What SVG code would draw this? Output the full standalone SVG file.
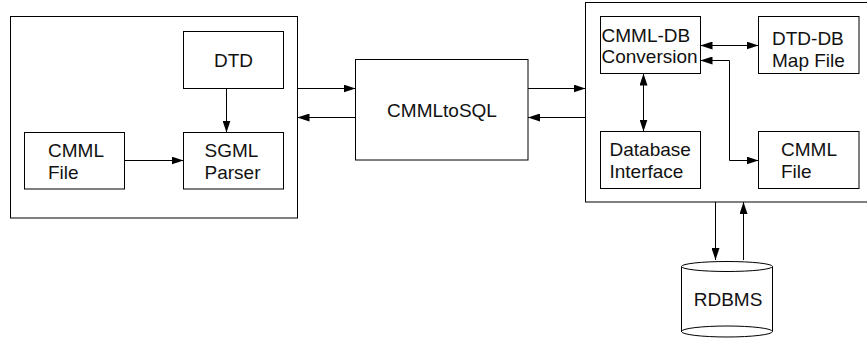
<svg xmlns="http://www.w3.org/2000/svg" width="867" height="341" viewBox="0 0 867 341">
<style>
.box{fill:#fff;stroke:#000;stroke-width:1}
.lbl{font-family:"Liberation Sans",Arial,sans-serif;font-size:19px;fill:#111}
.c{text-anchor:middle}
.con{fill:none;stroke:#000;stroke-width:1}
</style>
<defs>
<marker id="ah" viewBox="0 0 12 8" refX="12" refY="4" markerWidth="12" markerHeight="8" markerUnits="userSpaceOnUse" orient="auto-start-reverse">
<path d="M0,0 L12,4 L0,8 z" fill="#000"/>
</marker>
</defs>
<rect width="867" height="341" fill="#fff"/>
<g id="leftGroup"><rect class="box" x="10.5" y="16.5" width="287" height="201.5"/></g>
<g id="rightGroup"><rect class="box" x="585.5" y="2.5" width="290" height="199.5"/></g>
<g id="DTD"><rect class="box" x="183.5" y="31.5" width="100" height="57"/><text class="lbl c" x="233.5" y="67">DTD</text></g>
<g id="SGMLParser"><rect class="box" x="183.5" y="132.5" width="100" height="56.5"/><text class="lbl" x="204.5" y="157">SGML</text><text class="lbl" x="204.5" y="179">Parser</text></g>
<g id="CMMLFileLeft"><rect class="box" x="24.5" y="132.5" width="100" height="56.5"/><text class="lbl" x="48" y="157">CMML</text><text class="lbl" x="48" y="179">File</text></g>
<g id="CMMLtoSQL"><rect class="box" x="355.5" y="59.5" width="172.5" height="100.5"/><text class="lbl c" x="442" y="117">CMMLtoSQL</text></g>
<g id="CMMLDBConversion"><rect class="box" x="600.5" y="16.5" width="100" height="57"/><text class="lbl" x="601.5" y="41.5">CMML-DB</text><text class="lbl" x="601.5" y="62.7">Conversion</text></g>
<g id="DTDDBMapFile"><rect class="box" x="758.5" y="16.5" width="100.5" height="57"/><text class="lbl" x="772" y="45">DTD-DB</text><text class="lbl" x="772" y="66.5">Map File</text></g>
<g id="DatabaseInterface"><rect class="box" x="600.5" y="131.5" width="100" height="57"/><text class="lbl" x="609.5" y="156">Database</text><text class="lbl" x="609.5" y="178">Interface</text></g>
<g id="CMMLFileRight"><rect class="box" x="758.5" y="131.5" width="100.5" height="57"/><text class="lbl" x="781" y="156">CMML</text><text class="lbl" x="781" y="178">File</text></g>
<g id="RDBMS">
<path class="box" d="M681.5,266.5 V331.5 A45.5,5.5 0 0 0 772.5,331.5 V266.5"/>
<ellipse class="box" cx="727" cy="266.5" rx="45.5" ry="5"/>
<path class="con" d="M681.5,331.5 A45.5,5.5 0 0 1 772.5,331.5"/>
<text class="lbl c" x="728" y="306">RDBMS</text>
</g>
<g id="connectors" class="con">
<path d="M226.5,88.5 V132.5" marker-end="url(#ah)"/>
<path d="M124.5,160.5 H183.5" marker-end="url(#ah)"/>
<path d="M297.5,88.5 H355.5" marker-end="url(#ah)"/>
<path d="M355.5,117.5 H297.5" marker-end="url(#ah)"/>
<path d="M528,88.5 H585.5" marker-end="url(#ah)"/>
<path d="M585.5,117.5 H528" marker-end="url(#ah)"/>
<path d="M700.5,45.5 H758.5" marker-start="url(#ah)" marker-end="url(#ah)"/>
<path d="M700.5,60.5 H729.5 V160.5 H758.5" marker-start="url(#ah)" marker-end="url(#ah)"/>
<path d="M643.5,73.5 V131.5" marker-start="url(#ah)" marker-end="url(#ah)"/>
<path d="M715.5,202 V260" marker-end="url(#ah)"/>
<path d="M743.5,260 V202" marker-end="url(#ah)"/>
</g>
</svg>
